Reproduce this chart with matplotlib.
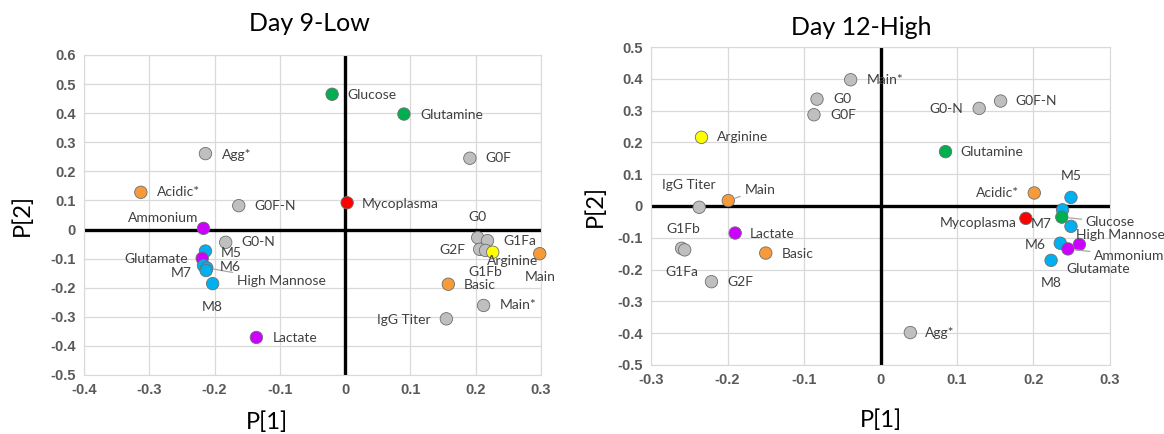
import numpy as np
import matplotlib
matplotlib.use("Agg")
import matplotlib.pyplot as plt

# Day 9-Low scores
low_names = ["Glucose", "Glutamine", "G0F", "Mycoplasma", "Agg*", "Acidic*", "G0F-N",
             "Ammonium", "G0-N", "M5", "Glutamate", "M7", "High Mannose", "M6", "M8",
             "Lactate", "G0", "G1Fa", "G2F", "G1Fb", "Arginine", "Main", "Basic",
             "Main*", "IgG Titer"]
low_p1 = [-0.020, 0.090, 0.191, 0.003, -0.214, -0.313, -0.163,
          -0.217, -0.183, -0.214, -0.219, -0.217, -0.212, -0.213, -0.203,
          -0.136, 0.203, 0.218, 0.206, 0.215, 0.226, 0.298, 0.158,
          0.212, 0.155]
low_p2 = [0.465, 0.397, 0.245, 0.092, 0.261, 0.128, 0.082,
          0.004, -0.044, -0.074, -0.099, -0.124, -0.132, -0.141, -0.186,
          -0.371, -0.028, -0.038, -0.068, -0.072, -0.078, -0.083, -0.188,
          -0.261, -0.307]

# Day 12-High scores
high_names = ["Main*", "G0", "G0F", "Arginine", "IgG Titer", "Main", "Lactate",
              "G1Fb", "G1Fa", "Basic", "G2F", "G0-N", "G0F-N", "Glutamine", "M5",
              "Acidic*", "Mycoplasma", "M7", "Glucose", "High Mannose", "M6",
              "Glutamate", "Ammonium", "M8", "Agg*"]
high_p1 = [-0.039, -0.083, -0.087, -0.234, -0.237, -0.199, -0.190,
           -0.260, -0.256, -0.150, -0.221, 0.129, 0.157, 0.085, 0.249,
           0.201, 0.190, 0.238, 0.237, 0.249, 0.235,
           0.260, 0.245, 0.223, 0.039]
high_p2 = [0.397, 0.336, 0.287, 0.216, -0.004, 0.017, -0.085,
           -0.133, -0.138, -0.148, -0.238, 0.307, 0.330, 0.171, 0.027,
           0.041, -0.039, -0.012, -0.035, -0.064, -0.117,
           -0.121, -0.135, -0.171, -0.398]

# colours per variable
GRAY, GREEN, ORANGE, RED = "#BFBFBF", "#00B050", "#F79A3A", "#FF0000"
PURPLE, CYAN, YELLOW = "#CC00FF", "#00B0F0", "#FFFF00"
colours = {"Glucose": GREEN, "Glutamine": GREEN, "Mycoplasma": RED,
           "Acidic*": ORANGE, "Basic": ORANGE, "Main": ORANGE, "Arginine": YELLOW,
           "Ammonium": PURPLE, "Glutamate": PURPLE, "Lactate": PURPLE,
           "M5": CYAN, "M6": CYAN, "M7": CYAN, "M8": CYAN, "High Mannose": CYAN}

# label placement (dx, dy in pixels, alignment, leader line)
low_labels = {
    "Glucose": (15, -1, "left", False), "Glutamine": (16, -1, "left", False),
    "G0F": (16, 0, "left", False), "Mycoplasma": (15, -1, "left", False),
    "Agg*": (16, -1, "left", False), "Acidic*": (16, 0, "left", False),
    "G0F-N": (16, 0, "left", False), "Ammonium": (-5, 10, "right", False),
    "G0-N": (16, 0, "left", False), "M5": (15, -2, "left", False),
    "Glutamate": (-14, -1, "right", False), "M7": (-12, -7, "right", False),
    "High Mannose": (30, -13, "left", True), "M6": (14, 4, "left", False),
    "M8": (0, -23, "center", False), "Lactate": (16, -1, "left", False),
    "G0": (0, 21, "center", False), "G1Fa": (16, 0, "left", False),
    "G2F": (-14, -1, "right", False), "G1Fb": (0, -22, "center", False),
    "Arginine": (20, -9, "center", False), "Main": (0, -23, "center", False),
    "Basic": (15, -1, "left", False), "Main*": (16, 0, "left", False),
    "IgG Titer": (-16, -1, "right", False)}
high_labels = {
    "Main*": (16, 0, "left", False), "G0": (16, 0, "left", False),
    "G0F": (16, 0, "left", False), "Arginine": (15, 0, "left", False),
    "IgG Titer": (-10, 22, "center", False), "Main": (16, 11, "left", True),
    "Lactate": (15, -1, "left", False), "G1Fb": (2, 19, "center", False),
    "G1Fa": (-3, -22, "center", False), "Basic": (16, -1, "left", False),
    "G2F": (16, 0, "left", False), "G0-N": (-16, -1, "right", False),
    "G0F-N": (15, 0, "left", False), "Glutamine": (15, 0, "left", False),
    "M5": (0, 21, "center", False), "Acidic*": (-15, 0, "right", False),
    "Mycoplasma": (-9, -5, "right", False), "M7": (-11, -14, "right", False),
    "Glucose": (24, -5, "left", True), "High Mannose": (5, -9, "left", False),
    "M6": (-15, -2, "right", False), "Glutamate": (19, -25, "center", False),
    "Ammonium": (26, -7, "left", True), "M8": (0, -23, "center", False),
    "Agg*": (15, 0, "left", False)}

label_font = ["Lato", "DejaVu Sans"]
tick_font = ["Liberation Sans", "DejaVu Sans"]


def draw_panel(ax, names, p1, p2, labels, xlim, ylim):
    ax.set_xlim(xlim)
    ax.set_ylim(ylim)
    ax.set_xticks(np.round(np.arange(xlim[0], xlim[1] + 0.001, 0.1), 1))
    ax.set_yticks(np.round(np.arange(ylim[0], ylim[1] + 0.001, 0.1), 1))
    ax.grid(True, color="#D9D9D9", lw=0.9)
    ax.set_axisbelow(True)
    for s in ax.spines.values():
        s.set_color("#D9D9D9")
    ax.tick_params(length=0, pad=6)
    ax.xaxis.set_major_formatter(plt.FuncFormatter(lambda v, p: "0" if abs(v) < 1e-9 else "%g" % v))
    ax.yaxis.set_major_formatter(plt.FuncFormatter(lambda v, p: "0" if abs(v) < 1e-9 else "%g" % v))
    for t in ax.get_xticklabels() + ax.get_yticklabels():
        t.set_fontfamily(tick_font)
        t.set_fontweight("bold")
        t.set_fontsize(10.5)
        t.set_color("#595959")
    ax.axhline(0, color="black", lw=2.4, zorder=2)
    ax.axvline(0, color="black", lw=2.4, zorder=2)

    cols = [colours.get(n, GRAY) for n in names]
    ax.scatter(p1, p2, s=80, c=cols, edgecolors="#6E6E6E", linewidths=0.6,
               zorder=3, clip_on=False)

    for n, x, y in zip(names, p1, p2):
        dx, dy, ha, leader = labels[n]
        kw = {}
        if leader:
            kw["arrowprops"] = dict(arrowstyle="-", color="#A6A6A6", lw=0.9,
                                    shrinkA=1, shrinkB=5)
        ax.annotate(n, (x, y), xytext=(dx, dy), textcoords="offset pixels",
                    ha=ha, va="center", fontsize=10, color="#404040",
                    family=label_font, zorder=4, **kw)

    ax.set_xlabel("P[1]", fontsize=17, family=label_font)
    ax.set_ylabel("P[2]", fontsize=17, family=label_font)


fig = plt.figure(figsize=(11.64, 4.34), dpi=100)
ax1 = fig.add_axes([0.0722, 0.136, 0.3926, 0.7373])
ax2 = fig.add_axes([0.5593, 0.159, 0.3943, 0.7327])

draw_panel(ax1, low_names, low_p1, low_p2, low_labels, (-0.4, 0.3), (-0.5, 0.6))
draw_panel(ax2, high_names, high_p1, high_p2, high_labels, (-0.3, 0.3), (-0.5, 0.5))

ax1.set_title("Day 9-Low", fontsize=18, family=label_font, x=0.494, pad=17)
ax2.set_title("Day 12-High", fontsize=18, family=label_font, x=0.459, pad=9)

ax1.xaxis.set_label_coords(0.40, -0.115)
ax1.yaxis.set_label_coords(-0.112, 0.5)
ax2.xaxis.set_label_coords(0.5, -0.14)
ax2.yaxis.set_label_coords(-0.098, 0.5)

plt.savefig("out.png", dpi=100)
